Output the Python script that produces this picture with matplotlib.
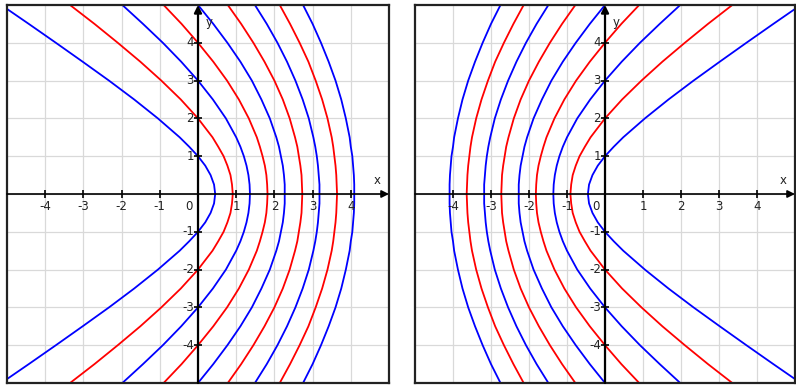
import numpy as np
import matplotlib.pyplot as plt

# heights at which each curve is sampled (upper half, curves are symmetric in y)
y_pts = [0, 0.25, 0.5, 0.75, 1, 1.25, 1.5, 2, 2.5, 3, 3.5, 4, 4.5, 5]

# x of each curve at y_pts on the left plot; curve k crosses the y-axis at +-k
blue_1 = [0.45, 0.42, 0.33, 0.19, 0.00, -0.23, -0.48, -1.05, -1.67, -2.33, -3.02, -3.72, -4.43, -5.15]
red_2 = [0.91, 0.89, 0.85, 0.77, 0.67, 0.53, 0.38, 0.00, -0.45, -0.96, -1.51, -2.10, -2.71, -3.35]
blue_3 = [1.36, 1.35, 1.32, 1.27, 1.20, 1.11, 1.00, 0.73, 0.39, 0.00, -0.44, -0.92, -1.44, -1.98]
red_4 = [1.82, 1.81, 1.79, 1.75, 1.69, 1.62, 1.54, 1.33, 1.07, 0.76, 0.40, 0.00, -0.43, -0.90]
blue_5 = [2.27, 2.27, 2.25, 2.22, 2.17, 2.12, 2.05, 1.88, 1.66, 1.41, 1.11, 0.77, 0.40, 0.00]
red_6 = [2.73, 2.72, 2.71, 2.68, 2.64, 2.60, 2.54, 2.40, 2.22, 2.00, 1.74, 1.45, 1.13, 0.78]
blue_7 = [3.18, 3.18, 3.16, 3.14, 3.11, 3.07, 3.02, 2.90, 2.74, 2.55, 2.33, 2.08, 1.80, 1.49]
red_8 = [3.64, 3.63, 3.62, 3.60, 3.57, 3.54, 3.50, 3.39, 3.25, 3.08, 2.89, 2.66, 2.41, 2.14]
blue_9 = [4.09, 4.09, 4.08, 4.06, 4.04, 4.00, 3.97, 3.87, 3.75, 3.60, 3.42, 3.22, 3.00, 2.75]

curves = [(blue_1, "#0000ff"), (red_2, "#ff0000"), (blue_3, "#0000ff"),
          (red_4, "#ff0000"), (blue_5, "#0000ff"), (red_6, "#ff0000"),
          (blue_7, "#0000ff"), (red_8, "#ff0000"), (blue_9, "#0000ff")]

ticks = [-4, -3, -2, -1, 1, 2, 3, 4]


def full_curve(xs):
    # join lower and upper halves
    ys = [-y for y in y_pts[::-1]] + y_pts[1:]
    xs = xs[::-1] + xs[1:]
    return np.array(xs), np.array(ys)


def draw_panel(ax, sign):
    ax.set_xlim(-5, 5)
    ax.set_ylim(-5, 5)
    ax.set_xticks([])
    ax.set_yticks([])
    for s in ax.spines.values():
        s.set_linewidth(1.6)
        s.set_color("#222222")

    for g in range(-4, 5):
        ax.axvline(g, color="#d9d9d9", lw=0.9, zorder=0)
        ax.axhline(g, color="#d9d9d9", lw=0.9, zorder=0)

    # axes with arrow heads
    ax.annotate("", xy=(5, 0), xytext=(-5, 0),
                arrowprops=dict(arrowstyle="-|>", color="black", lw=1.2,
                                mutation_scale=11, shrinkA=0, shrinkB=0), zorder=3)
    ax.annotate("", xy=(0, 5), xytext=(0, -5),
                arrowprops=dict(arrowstyle="-|>", color="black", lw=1.6,
                                mutation_scale=11, shrinkA=0, shrinkB=0), zorder=3)
    ax.plot(ticks, [0] * len(ticks), ls="none", marker="|", ms=6, mew=1.2, color="black", zorder=3)
    ax.plot([0] * len(ticks), ticks, ls="none", marker="_", ms=6, mew=1.2, color="black", zorder=3)

    for xs, col in curves:
        cx, cy = full_curve(xs)
        ax.plot(sign * cx, cy, color=col, lw=1.3, zorder=2)

    for t in ticks:
        ax.annotate(str(t), (t, 0), xytext=(0, -4), textcoords="offset points",
                    ha="center", va="top", fontsize=8.5, color="#222222")
        ax.annotate(str(t), (0, t), xytext=(-3, 0), textcoords="offset points",
                    ha="right", va="center", fontsize=8.5, color="#222222")
    ax.annotate("0", (0, 0), xytext=(-4, -4), textcoords="offset points",
                ha="right", va="top", fontsize=8.5, color="#222222")
    ax.text(4.7, 0.18, "x", ha="center", va="bottom", fontsize=8.5, color="#222222")
    ax.text(0.2, 4.55, "y", ha="left", va="center", fontsize=8.5, color="#222222")


fig = plt.figure(figsize=(7.96, 3.85), dpi=100)
ax1 = fig.add_axes([7 / 796, 2 / 385, 382 / 796, 378 / 385])
ax2 = fig.add_axes([415 / 796, 2 / 385, 380 / 796, 378 / 385])
draw_panel(ax1, 1)
draw_panel(ax2, -1)

fig.savefig("out.png", dpi=100)
